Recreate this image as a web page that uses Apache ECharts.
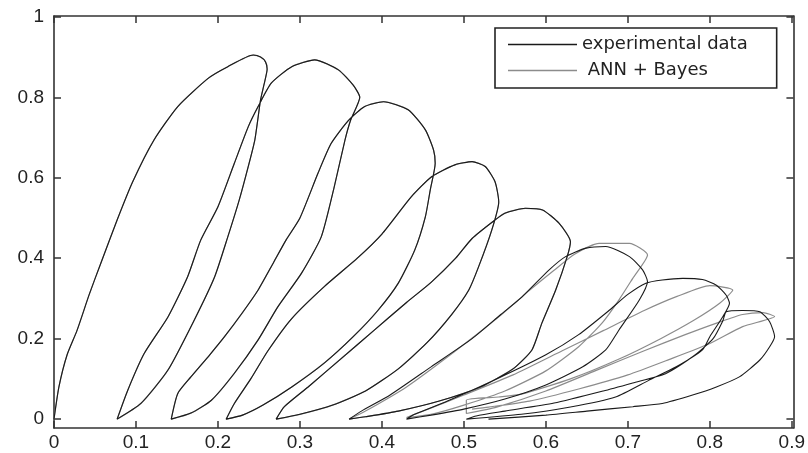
<!DOCTYPE html>
<html>
<head>
<meta charset="utf-8">
<script src="https://cdn.jsdelivr.net/npm/echarts@6/dist/echarts.min.js"></script>
<style>html,body{margin:0;padding:0;background:#fff}#c{width:808px;height:453px}</style>
</head>
<body>
<div id="c"></div>
<script>
// Experimental loops (black): each loop = loading from previous bottom point, over the peak, unloading to the next bottom point
const expLoop1 = [[0,0],[0.006,0.08],[0.016,0.16],[0.028,0.22],[0.043,0.31],[0.057,0.387],[0.077,0.495],[0.096,0.59],[0.122,0.694],[0.151,0.777],[0.188,0.847],[0.212,0.876],[0.243,0.905],[0.252,0.9],[0.258,0.888],[0.26,0.87],[0.256,0.83],[0.252,0.794],[0.245,0.694],[0.237,0.628],[0.226,0.545],[0.212,0.453],[0.196,0.354],[0.171,0.246],[0.139,0.122],[0.106,0.039],[0.077,0]];
const expLoop2 = [[0.077,0],[0.09,0.072],[0.11,0.163],[0.139,0.254],[0.163,0.354],[0.179,0.445],[0.2,0.528],[0.22,0.636],[0.237,0.727],[0.249,0.777],[0.265,0.835],[0.29,0.876],[0.318,0.893],[0.347,0.868],[0.365,0.83],[0.373,0.8],[0.362,0.744],[0.355,0.694],[0.341,0.57],[0.326,0.453],[0.302,0.363],[0.273,0.279],[0.249,0.197],[0.22,0.114],[0.192,0.047],[0.167,0.015],[0.143,0]];
const expLoop3 = [[0.143,0],[0.151,0.064],[0.167,0.105],[0.19,0.16],[0.208,0.205],[0.23,0.265],[0.249,0.321],[0.268,0.39],[0.283,0.445],[0.3,0.5],[0.322,0.611],[0.338,0.685],[0.359,0.742],[0.379,0.777],[0.402,0.789],[0.432,0.769],[0.453,0.719],[0.463,0.669],[0.465,0.636],[0.459,0.57],[0.453,0.503],[0.44,0.42],[0.42,0.338],[0.395,0.27],[0.365,0.205],[0.33,0.14],[0.29,0.08],[0.255,0.035],[0.23,0.01],[0.21,0]];
const expLoop4 = [[0.21,0],[0.22,0.039],[0.24,0.1],[0.261,0.17],[0.29,0.25],[0.33,0.33],[0.37,0.4],[0.4,0.46],[0.436,0.553],[0.461,0.603],[0.489,0.632],[0.51,0.64],[0.526,0.628],[0.538,0.59],[0.5425,0.54],[0.534,0.47],[0.518,0.379],[0.506,0.321],[0.485,0.26],[0.455,0.19],[0.42,0.125],[0.38,0.07],[0.34,0.035],[0.3,0.012],[0.271,0]];
const expLoop5 = [[0.271,0],[0.281,0.031],[0.31,0.08],[0.35,0.15],[0.39,0.22],[0.43,0.29],[0.46,0.34],[0.49,0.4],[0.51,0.449],[0.538,0.495],[0.55,0.512],[0.575,0.524],[0.596,0.52],[0.616,0.487],[0.63,0.441],[0.626,0.404],[0.612,0.321],[0.595,0.238],[0.583,0.172],[0.56,0.125],[0.52,0.08],[0.47,0.045],[0.42,0.02],[0.38,0.006],[0.36,0]];
const expLoop6 = [[0.36,0],[0.375,0.02],[0.41,0.06],[0.46,0.13],[0.51,0.2],[0.545,0.26],[0.571,0.304],[0.604,0.371],[0.624,0.404],[0.649,0.425],[0.673,0.429],[0.702,0.404],[0.718,0.371],[0.724,0.342],[0.714,0.296],[0.689,0.221],[0.673,0.172],[0.645,0.13],[0.6,0.085],[0.55,0.05],[0.5,0.025],[0.46,0.01],[0.43,0]];
const expLoop7 = [[0.43,0],[0.44,0.012],[0.48,0.045],[0.54,0.1],[0.6,0.16],[0.64,0.21],[0.677,0.27],[0.7,0.31],[0.722,0.338],[0.742,0.346],[0.767,0.35],[0.791,0.347],[0.808,0.333],[0.82,0.308],[0.824,0.288],[0.816,0.255],[0.8,0.205],[0.791,0.172],[0.759,0.13],[0.726,0.097],[0.685,0.055],[0.63,0.03],[0.57,0.012],[0.503,0]];
const expLoop8 = [[0.503,0],[0.515,0.008],[0.55,0.02],[0.61,0.04],[0.67,0.07],[0.706,0.09],[0.746,0.113],[0.779,0.155],[0.804,0.2],[0.816,0.245],[0.82,0.267],[0.84,0.27],[0.861,0.267],[0.873,0.242],[0.879,0.205],[0.873,0.18],[0.861,0.147],[0.836,0.105],[0.808,0.08],[0.779,0.06],[0.742,0.039],[0.706,0.031],[0.65,0.02],[0.6,0.01],[0.53,0]];

// ANN + Bayes (grey): coincides with the data for loops 1-5, differs on loops 6-8
const annLoop6 = [[0.36,0],[0.38,0.02],[0.43,0.08],[0.49,0.17],[0.54,0.25],[0.58,0.32],[0.61,0.37],[0.635,0.41],[0.665,0.437],[0.702,0.437],[0.724,0.408],[0.706,0.35],[0.689,0.296],[0.669,0.24],[0.64,0.18],[0.6,0.12],[0.55,0.07],[0.5,0.035],[0.46,0.012],[0.43,0.004]];
const annLoop7 = [[0.43,0.004],[0.45,0.02],[0.5,0.06],[0.56,0.11],[0.62,0.17],[0.67,0.22],[0.72,0.27],[0.76,0.305],[0.8,0.332],[0.828,0.321],[0.812,0.288],[0.78,0.245],[0.74,0.2],[0.69,0.15],[0.63,0.1],[0.57,0.062],[0.5425,0.055],[0.503,0.047],[0.503,0.014]];
const annLoop8 = [[0.503,0.014],[0.54,0.03],[0.6,0.07],[0.66,0.12],[0.72,0.17],[0.77,0.21],[0.81,0.24],[0.84,0.26],[0.865,0.265],[0.879,0.255],[0.84,0.23],[0.8,0.188],[0.75,0.148],[0.7,0.11],[0.64,0.075],[0.58,0.045],[0.53,0.03],[0.51,0.025]];

const xTicks = [0,0.1,0.2,0.3,0.4,0.5,0.6,0.7,0.8,0.9];
const yTicks = [0,0.2,0.4,0.6,0.8,1];
const seriesNames = ['experimental data','ANN + Bayes'];

const expData = [].concat(expLoop1,expLoop2,expLoop3,expLoop4,expLoop5,expLoop6,expLoop7,expLoop8);
const annData = [].concat(expLoop1,expLoop2,expLoop3,expLoop4,expLoop5,annLoop6,annLoop7,annLoop8);

const chart = echarts.init(document.getElementById('c'), null, {renderer:'canvas'});
const labelFont = {fontFamily:'Liberation Sans', fontSize:19, color:'#222'};
const axisLine = {show:true, onZero:false, lineStyle:{color:'#333', width:1.6}};
const tick = {show:true, inside:true, length:7, lineStyle:{color:'#333', width:1.5}};
const fmt = v => (v === 0 ? '0' : (v === 1 ? '1' : String(+v.toFixed(1))));
chart.setOption({
  animation:false,
  backgroundColor:'#fff',
  grid:{left:54, top:16, width:740, height:412, containLabel:false},
  legend:{
    data:seriesNames.map(n => ({name:n, icon:'rect'})), orient:'vertical', left:495, top:28,
    padding:[7,29,8,13], itemGap:7, itemWidth:69, itemHeight:1.6,
    borderColor:'#222', borderWidth:1.6, backgroundColor:'#fff',
    formatter: n => n === 'ANN + Bayes' ? ' ' + n : n,
    textStyle:{fontFamily:'DejaVu Sans', fontSize:18, color:'#222', lineHeight:19}
  },
  xAxis:[
    {type:'value', min:0, max:0.902, position:'bottom', axisLine:axisLine, splitLine:{show:false},
     axisTick:{...tick, customValues:xTicks},
     axisLabel:{customValues:xTicks, formatter:fmt, margin:5, ...labelFont}},
    {type:'value', min:0, max:0.902, position:'top', axisLine:axisLine, splitLine:{show:false},
     axisTick:{...tick, customValues:xTicks},
     axisLabel:{show:false}}
  ],
  yAxis:[
    {type:'value', min:-0.022, max:1.002, position:'left', axisLine:axisLine, splitLine:{show:false},
     axisTick:{...tick, customValues:yTicks},
     axisLabel:{customValues:yTicks, formatter:fmt, margin:10, ...labelFont}},
    {type:'value', min:-0.022, max:1.002, position:'right', axisLine:axisLine, splitLine:{show:false},
     axisTick:{...tick, customValues:yTicks},
     axisLabel:{show:false}}
  ],
  series:[
    {name:seriesNames[1], type:'line', data:annData, showSymbol:false, symbol:'none', smooth:0.2, z:2,
     lineStyle:{color:'#8c8c8c', width:1.2}, itemStyle:{color:'#8c8c8c'}},
    {name:seriesNames[0], type:'line', data:expData, showSymbol:false, symbol:'none', smooth:0.2, z:3,
     lineStyle:{color:'#1a1a1a', width:1.1}, itemStyle:{color:'#1a1a1a'}}
  ]
});
</script>
</body>
</html>
